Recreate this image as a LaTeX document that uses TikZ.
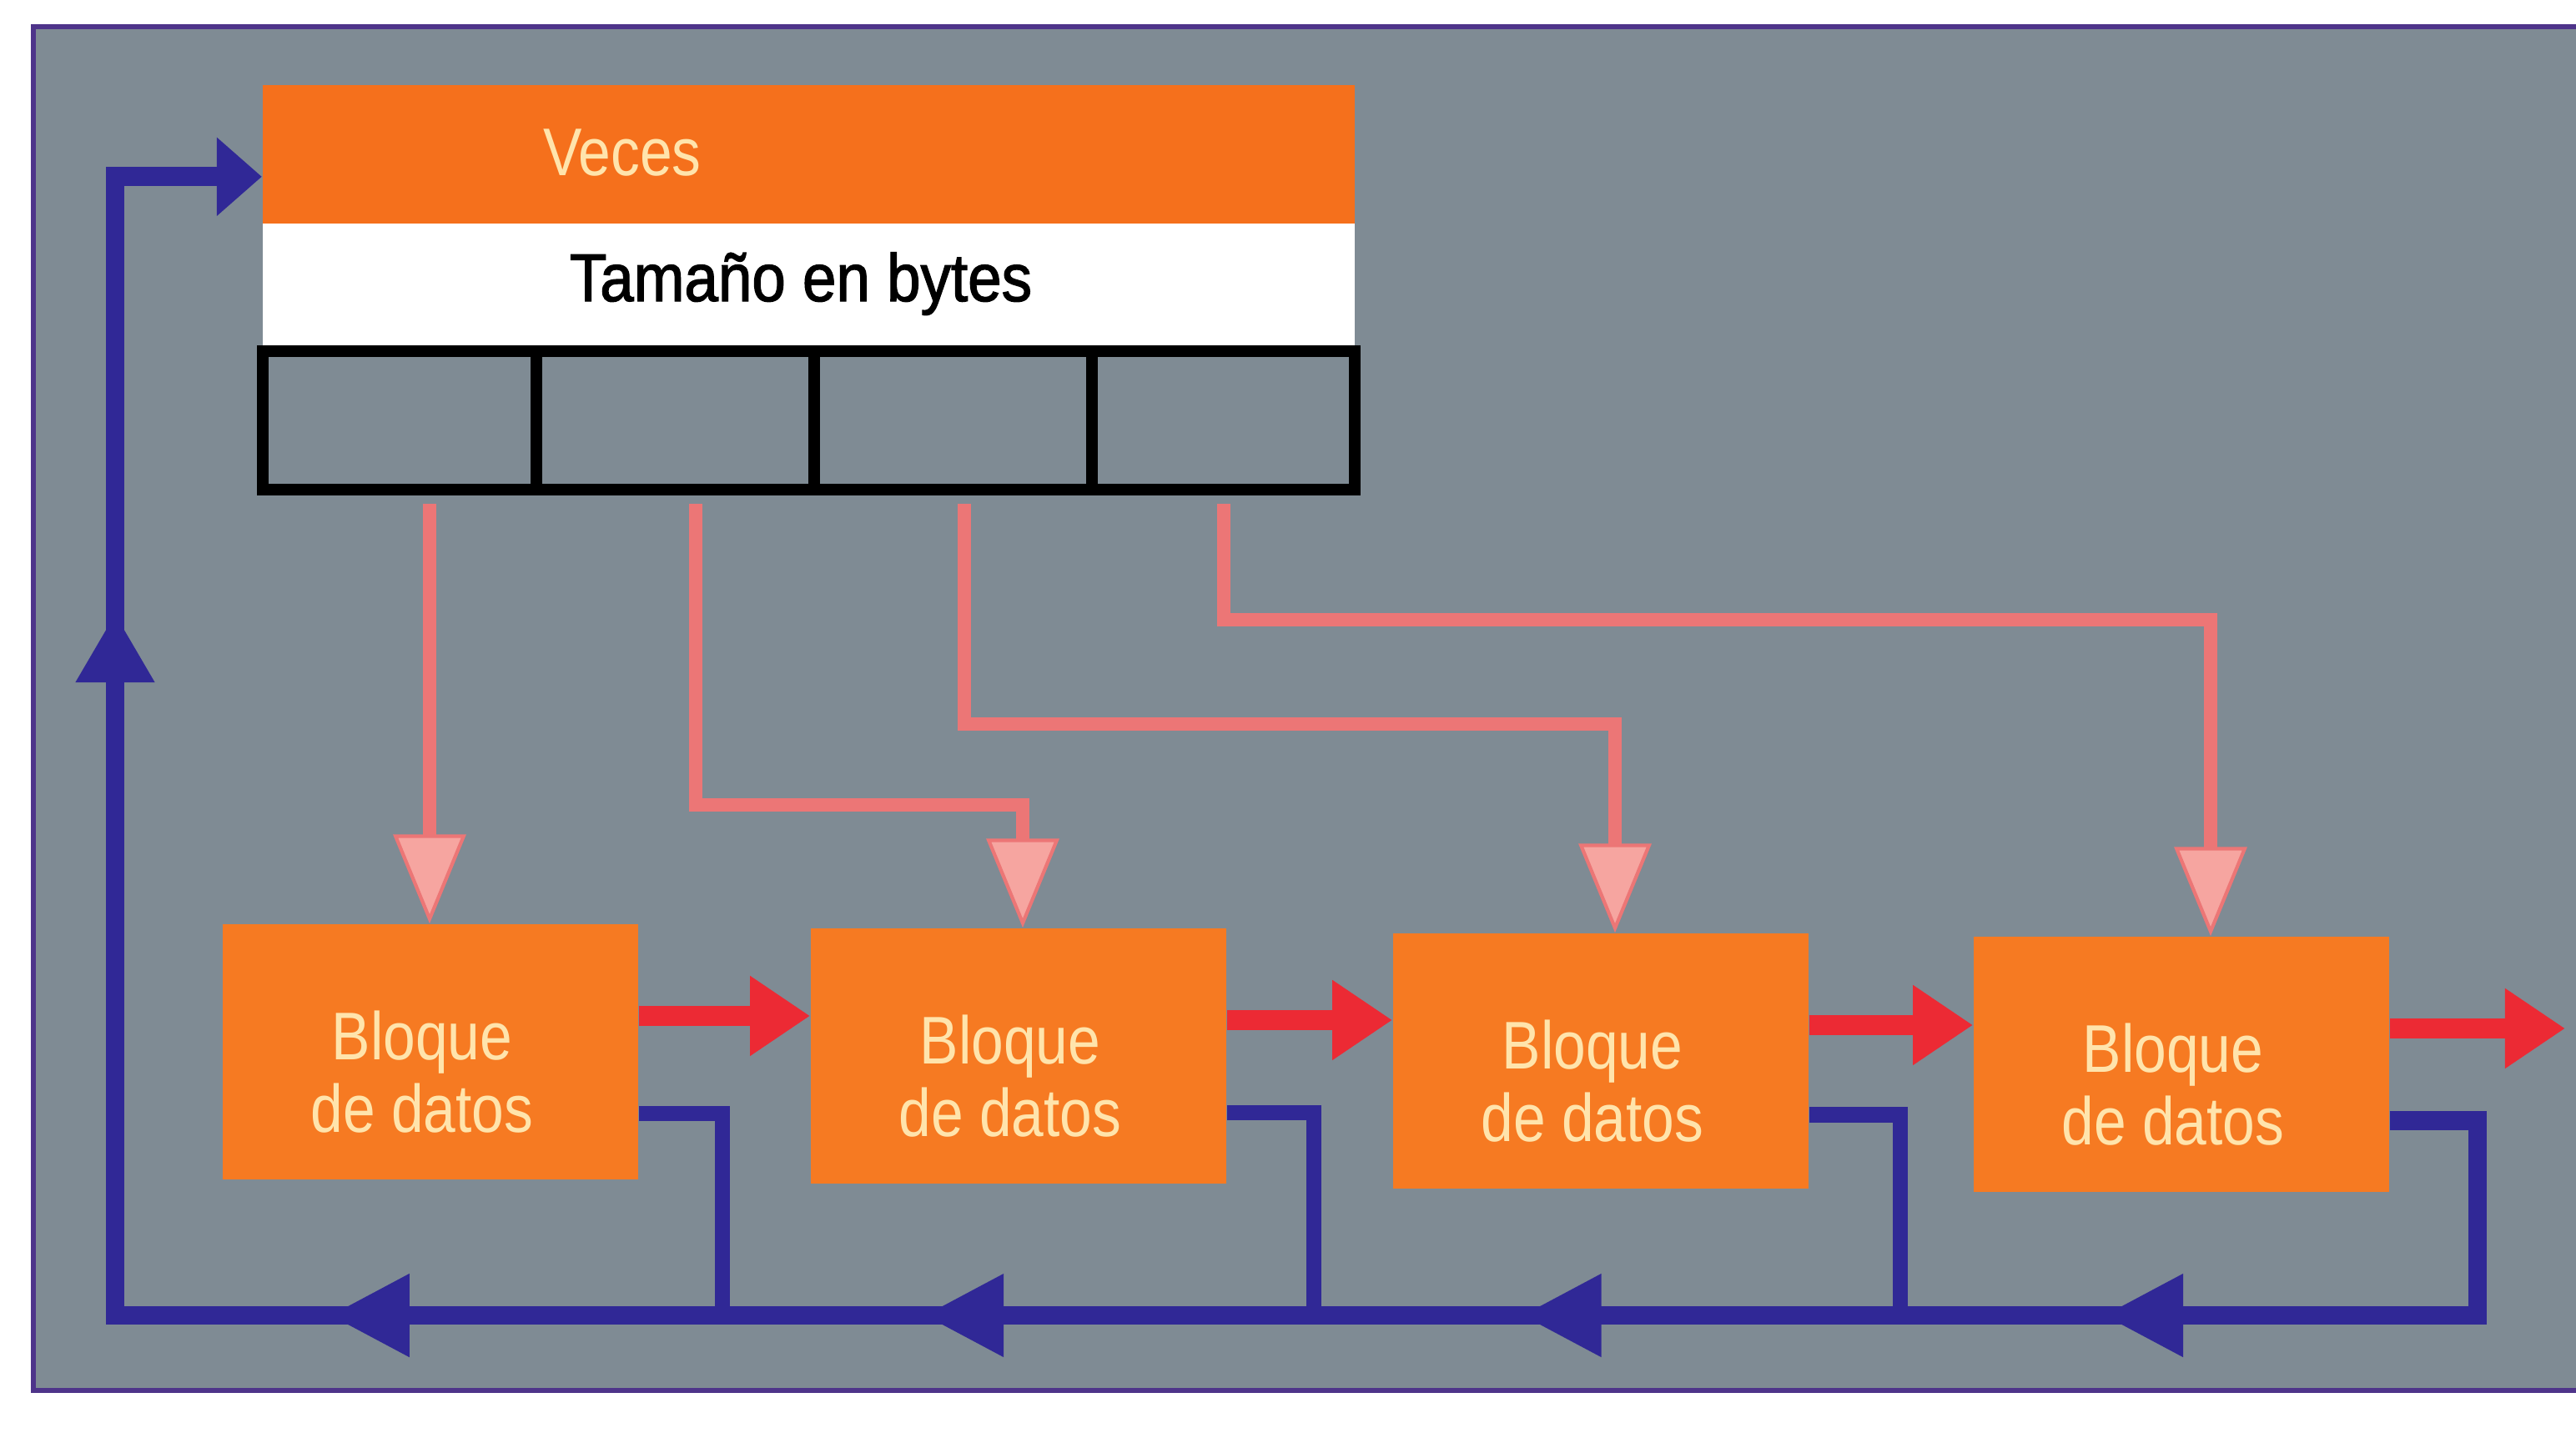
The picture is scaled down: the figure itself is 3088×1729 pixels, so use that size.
\documentclass[tikz,border=0pt]{standalone}
\usepackage{fontspec}
\setmainfont{Liberation Sans}[FakeStretch=0.86]
\newfontfamily\tamfont{Liberation Sans}[FakeStretch=0.9,FakeBold=1.6]
\usetikzlibrary{arrows.meta,calc,decorations.markings}
\definecolor{panelgray}{RGB}{127,139,148}
\definecolor{panelline}{RGB}{78,52,138}
\definecolor{vorange}{RGB}{245,112,28}
\definecolor{borange}{RGB}{246,122,34}
\definecolor{cream}{RGB}{255,228,172}
\definecolor{rarrow}{RGB}{236,42,52}
\definecolor{pkline}{RGB}{236,118,118}
\definecolor{pkhead}{RGB}{246,165,160}
\definecolor{fbblue}{RGB}{48,40,150}
\pgfkeys{/pgf/decoration/busmark/.style={mark=at position #1 with {\arrow{Triangle[width=26.5pt,length=27.3pt]}}}}
\begin{document}
\begin{tikzpicture}[x=0.01cm,y=-0.01cm,
  block/.style={fill=borange,minimum width=4.98cm,minimum height=3.06cm,inner sep=0pt},
  blocktext/.style={text=cream,align=center,inner sep=0pt,font=\fontsize{23}{24.5}\selectfont},
  cell/.style={draw=black,line width=4pt,minimum height=1.66cm,inner sep=0pt},
  ptr/.style={draw=pkline,line width=4.5pt,-{Triangle[width=24.7pt,length=30.4pt,fill=pkhead,line width=1.2pt]}},
  rarr/.style={draw=rarrow,line width=6.8pt,-{Triangle[width=25.9pt,length=20.5pt]}},
  fbstub/.style={draw=fbblue,line width=5.2pt},
  fbbus/.style={draw=fbblue,line width=6.5pt}
]
\useasboundingbox (0,0) rectangle (3088,1729);
% panel
\fill[panelgray] (40,32) rectangle (3088,1667);
\draw[panelline,line width=1.8pt] (3088,32) -- (40,32) -- (40,1667) -- (3088,1667);

% header structure
\node[fill=vorange,minimum width=13.09cm,minimum height=1.66cm,inner sep=0pt] (veces) at (969.5,185) {};
\node[text=cream,inner sep=0pt,font=\fontsize{23}{25}\selectfont] (vecestxt) at (746,183) {Veces};
\node[fill=white,minimum width=13.09cm,minimum height=1.53cm,inner sep=0pt] (tam) at (969.5,344.5) {};
\node[anchor=base,inner sep=0pt,font=\tamfont\fontsize{23}{25}\selectfont] (tamtxt) at (960,361) {Tamaño en bytes};
\node[cell,minimum width=3.28cm] (c1) at (479,504) {};
\node[cell,minimum width=3.33cm] (c2) at (809.5,504) {};
\node[cell,minimum width=3.33cm] (c3) at (1142.5,504) {};
\node[cell,minimum width=3.15cm] (c4) at (1466.5,504) {};

% data blocks
\node[block] (b1) at (516,1261) {};
\node[block] (b2) at (1221,1266) {};
\node[block] (b3) at (1919,1272) {};
\node[block] (b4) at (2615,1276) {};
\node[blocktext] (t1) at ($(b1.center)+(-10,24)$) {Bloque\\de datos};
\node[blocktext] (t2) at ($(b2.center)+(-10,24)$) {Bloque\\de datos};
\node[blocktext] (t3) at ($(b3.center)+(-10,24)$) {Bloque\\de datos};
\node[blocktext] (t4) at ($(b4.center)+(-10,24)$) {Bloque\\de datos};

% pointer arrows from cells to blocks
\coordinate (s1) at (515,604);
\coordinate (s2) at (834,604);
\coordinate (s3) at (1156,604);
\coordinate (s4) at (1467,604);
\draw[ptr] (s1) -- (515,0 |- b1.north);
\draw[ptr] (s2) |- (1226,965) -- (1226,0 |- b2.north);
\draw[ptr] (s3) |- (1936,868) -- (1936,0 |- b3.north);
\draw[ptr] (s4) |- (2650,743) -- (2650,0 |- b4.north);

% red chain arrows
\coordinate (r1) at ($(b1.south east)!0.64!(b1.north east)$);
\coordinate (r2) at ($(b2.south east)!0.64!(b2.north east)$);
\coordinate (r3) at ($(b3.south east)!0.64!(b3.north east)$);
\coordinate (r4) at ($(b4.south east)!0.64!(b4.north east)$);
\coordinate (rout) at (3075,1230);
\draw[rarr] (r1) -- (r1 -| b2.west);
\draw[rarr] (r2) -- (r2 -| b3.west);
\draw[rarr] (r3) -- (r3 -| b4.west);
\draw[rarr] (r4) -- (r4 -| rout);

% blue feedback
\coordinate (f1) at ($(b1.south east)!0.26!(b1.north east)$);
\coordinate (f2) at ($(b2.south east)!0.28!(b2.north east)$);
\coordinate (f3) at ($(b3.south east)!0.29!(b3.north east)$);
\coordinate (f4) at ($(b4.south east)!0.28!(b4.north east)$);
\coordinate (k1) at (866,1577);
\coordinate (k2) at (1575,1577);
\coordinate (k3) at (2278,1577);
\coordinate (k4) at (2970,1577);
\coordinate (kc) at (138,1577);
\coordinate (vin) at ($(veces.south west)!0.34!(veces.north west)$);
\draw[fbstub] (f1) -| (k1);
\draw[fbstub] (f2) -| (k2);
\draw[fbstub] (f3) -| (k3);
\draw[fbbus,-{Triangle[width=25.9pt,length=15.4pt]},
  postaction={decorate},
  decoration={markings,busmark=7.87cm,busmark=14.84cm,busmark=22.0cm,busmark=29.12cm,
    mark=at position 40.1cm with {\arrow{Triangle[width=25.3pt,length=23.6pt]}}}]
  (f4) -| (k4) -- (kc) |- (vin);
\end{tikzpicture}
\end{document}
